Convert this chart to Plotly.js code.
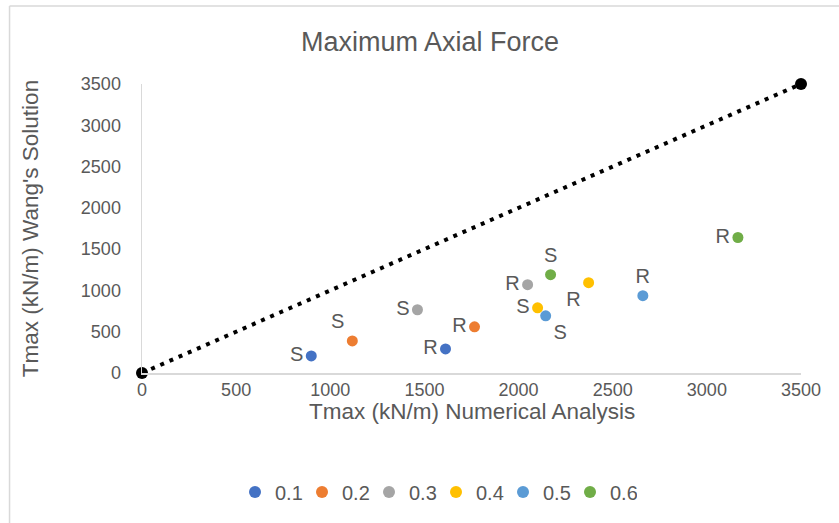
<!DOCTYPE html>
<html>
<head>
<meta charset="utf-8">
<script src="https://cdn.plot.ly/plotly-3.0.1.min.js"></script>
<style>
html,body{margin:0;padding:0;background:#fff;}
#chart{width:839px;height:523px;}
</style>
</head>
<body>
<div id="chart"></div>
<script>
// Series names (legend) and colours
const seriesNames = ['0.1', '0.2', '0.3', '0.4', '0.5', '0.6'];
const seriesColors = ['#4472C4', '#ED7D31', '#A5A5A5', '#FFC000', '#5B9BD5', '#70AD47'];

// Each series: [S point, R point]
const pointLabels = ['S', 'R'];
const numericalX = [
  [899, 1612],   // 0.1
  [1117, 1766],  // 0.2
  [1463, 2048],  // 0.3
  [2101, 2372],  // 0.4
  [2144, 2660],  // 0.5
  [2170, 3165]   // 0.6
];
const wangY = [
  [207, 292],    // 0.1
  [389, 559],    // 0.2
  [766, 1069],   // 0.3
  [790, 1094],   // 0.4
  [693, 936],    // 0.5
  [1191, 1641]   // 0.6
];
const labelPositions = [
  ['middle left', 'middle left'],
  ['top left', 'middle left'],
  ['middle left', 'middle left'],
  ['middle left', 'bottom left'],
  ['bottom right', 'top center'],
  ['top center', 'middle left']
];

// Equality (1:1) line
const refLineX = [0, 3500];
const refLineY = [0, 3500];

const xTicks = [0, 500, 1000, 1500, 2000, 2500, 3000, 3500];
const yTicks = [0, 500, 1000, 1500, 2000, 2500, 3000, 3500];

const xTitle = 'Tmax (kN/m) Numerical Analysis';
const yTitle = "Tmax (kN/m) Wang's Solution";

const textColor = '#595959';
const fontFamily = '"Liberation Sans", Arial, sans-serif';

const traces = [];
traces.push({
  x: refLineX, y: refLineY,
  type: 'scatter', mode: 'lines+markers',
  line: {color: '#000000', width: 4, dash: '4px,6px'},
  marker: {color: '#000000', size: 12},
  cliponaxis: false,
  showlegend: false, hoverinfo: 'skip'
});
seriesNames.forEach((name, i) => {
  traces.push({
    x: numericalX[i], y: wangY[i],
    type: 'scatter', mode: 'markers+text',
    name: name,
    text: pointLabels,
    textposition: labelPositions[i],
    textfont: {family: fontFamily, size: 20, color: textColor},
    marker: {color: seriesColors[i], size: 11},
    cliponaxis: false
  });
});

const layout = {
  width: 839, height: 523,
  paper_bgcolor: '#ffffff', plot_bgcolor: '#ffffff',
  margin: {l: 142, r: 38, t: 84, b: 150, autoexpand: false},
  font: {family: fontFamily, color: textColor},
  title: {
    text: 'Maximum Axial Force',
    font: {family: fontFamily, size: 27, color: textColor},
    x: 430 / 839, xanchor: 'center', xref: 'container',
    y: 1 - 42 / 523, yanchor: 'middle', yref: 'container'
  },
  xaxis: {
    range: [0, 3500], tickvals: xTicks, ticktext: xTicks.map(String),
    showgrid: false, zeroline: false,
    showline: true, linecolor: '#D9D9D9', linewidth: 1.5,
    ticks: '', tickfont: {family: fontFamily, size: 18, color: textColor},
    automargin: false, fixedrange: true
  },
  yaxis: {
    range: [0, 3500], tickvals: yTicks, ticktext: yTicks.map(String),
    showgrid: false, zeroline: false,
    showline: true, linecolor: '#D9D9D9', linewidth: 1.5,
    ticks: '', ticklabelstandoff: 16,
    tickfont: {family: fontFamily, size: 18, color: textColor},
    title: {text: yTitle, font: {family: fontFamily, size: 22.5, color: textColor}, standoff: 36},
    automargin: false, fixedrange: true
  },
  annotations: [{
    text: xTitle, showarrow: false,
    xref: 'paper', yref: 'paper', x: 0.5, y: (373 - 411) / 289,
    xanchor: 'center', yanchor: 'middle',
    font: {family: fontFamily, size: 22.5, color: textColor}
  }],
  legend: {
    orientation: 'h', x: 235 / 839, xanchor: 'left', xref: 'container',
    y: 1 - 492 / 523, yanchor: 'middle', yref: 'container',
    font: {family: fontFamily, size: 20, color: textColor},
    entrywidth: 22, entrywidthmode: 'pixels',
    itemsizing: 'constant', traceorder: 'normal'
  },
  shapes: [{
    type: 'path', xref: 'paper', yref: 'paper',
    path: 'M -0.2010,' + (1 + (84 - 6) / 289).toFixed(4) + ' L -0.2010,-0.55 M -0.2010,' + (1 + (84 - 6) / 289).toFixed(4) + ' L 1.06,' + (1 + (84 - 6) / 289).toFixed(4),
    line: {color: '#D9D9D9', width: 1.5}
  }],
  showlegend: true
};

Plotly.newPlot('chart', traces, layout, {displayModeBar: false, staticPlot: true});
</script>
</body>
</html>
